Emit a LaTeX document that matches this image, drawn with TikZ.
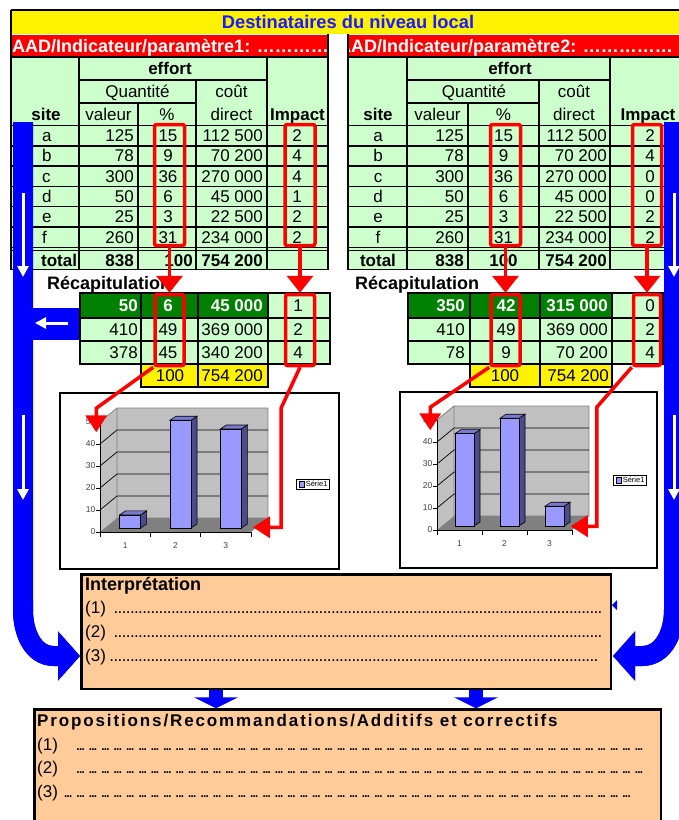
\documentclass[tikz,border=0pt]{standalone}
\usepackage{fontspec}
\setmainfont{Liberation Sans}
\usetikzlibrary{arrows.meta}

\definecolor{cellgreen}{HTML}{CCFFCC}
\definecolor{recapgreen}{HTML}{008000}
\definecolor{peach}{HTML}{FFCC99}
\definecolor{barfront}{HTML}{9999FF}
\definecolor{barside}{HTML}{4C4C8C}
\definecolor{bartop}{HTML}{7A7ACC}
\definecolor{wallgray}{HTML}{C0C0C0}
\definecolor{floorgray}{HTML}{808080}
\definecolor{titleblue}{HTML}{1A1AFF}

\newcommand{\tabfont}{\fontsize{17}{19}\selectfont}
\newcommand{\dotsline}[2]{\hbox to #1{#2\leaders\hbox to 4.1pt{\hss.\hss}\hfill}}
\newcommand{\groupline}[2]{\hbox to #1{#2\leaders\hbox to 12.4pt{\hss.\kern-2.2pt.\kern-2.2pt.\hss}\hfill}}

% 3-D bar chart: origin of front axis, floor width, bar width, bars
\newcommand{\barchart}[4]{%
  \begin{scope}[shift={#1}]
    \fill[wallgray] (0,0) -- (0,-110) -- (17,-124) -- (17,-14) -- cycle;
    \fill[wallgray] (17,-14) rectangle (#2+17,-124);
    \fill[floorgray] (0,0) -- (#2,0) -- (#2+17,-14) -- (17,-14) -- cycle;
    \draw[gray, line width=0.8pt] (0,-110) -- (17,-124) -- (#2+17,-124) -- (#2+17,-14) -- (17,-14) -- (17,-124);
    \foreach \k in {1,...,4}
      \draw[line width=0.7pt] (0,-22*\k) -- (17,-14-22*\k) -- (#2+17,-14-22*\k);
    \draw[line width=0.8pt] (0,-110) -- (0,0) -- (#2,0);
    \foreach \k in {0,...,5}{
      \pgfmathtruncatemacro\lab{10*\k}
      \draw[line width=0.8pt] (-4,-22*\k) -- (0,-22*\k);
      \node[axlbl, anchor=east] at (-4.5,-22*\k) {\lab};
    }
    \foreach \t in {0,...,3}
      \draw[line width=0.8pt] (#2*\t/3,0) -- (#2*\t/3,5);
    \foreach \n/\val in {#4}{
      \pgfmathsetmacro\lx{#2/6*(2*\n-1)}
      \pgfmathsetmacro\cx{\lx+5}
      \pgfmathsetmacro\h{2.2*\val}
      \node[axlbl] at (\lx,14) {\n};
      \filldraw[fill=barside, line width=0.6pt] (\cx+#3/2,-4) -- (\cx+#3/2+6,-8) -- (\cx+#3/2+6,-8-\h) -- (\cx+#3/2,-4-\h) -- cycle;
      \filldraw[fill=bartop, line width=0.6pt] (\cx-#3/2,-4-\h) -- (\cx+#3/2,-4-\h) -- (\cx+#3/2+6,-8-\h) -- (\cx-#3/2+6,-8-\h) -- cycle;
      \filldraw[fill=barfront, line width=0.6pt] (\cx-#3/2,-4) rectangle (\cx+#3/2,-4-\h);
    }
  \end{scope}}

% grid of one indicator table: left, site|valeur, valeur|%, %|cout, cout|impact, right
\newcommand{\tablegrid}[6]{%
  \fill[cellgreen] (#1,57) rectangle (#6,269.5);
  \draw[gridline] (#1,57) -- (#6,57);
  \draw[gridline] (#2,80) -- (#5,80);
  \draw[gridline] (#2,103) -- (#4,103);
  \foreach \k in {0,...,5}
    \draw[gridline] (#1,125.5+20.3*\k) -- (#6,125.5+20.3*\k);
  \draw[gridline] (#1,247.3) -- (#6,247.3);
  \draw[gridline] (#1,250.5) -- (#6,250.5);
  \draw[gridline] (#1,269.5) -- (#6,269.5);
  \draw[gridline] (#1,34) -- (#1,269.5);
  \draw[gridline] (#2,57) -- (#2,269.5);
  \draw[gridline] (#3,103) -- (#3,269.5);
  \draw[gridline] (#4,80) -- (#4,269.5);
  \draw[gridline] (#5,57) -- (#5,269.5);
  \draw[gridline] (#6,34) -- (#6,269.5);}

\begin{document}
\begin{tikzpicture}[x=1pt, y=-1pt,
    txt/.style={inner sep=0pt, font=\tabfont, text height=12pt, text depth=0pt},
    boldtxt/.style={txt, font=\tabfont\bfseries},
    gridline/.style={line width=1.4pt},
    redbox/.style={draw=red, line width=3.5pt, rounded corners=2pt, inner sep=0pt},
    redarrow/.style={draw=red, line width=3.5pt, -{Triangle[width=26pt,length=17pt]}},
    chartarrow/.style={draw=red, line width=3.5pt, -{Triangle[width=21pt,length=17pt]}},
    bluearrow/.style={draw=blue, line width=20pt, -{Triangle[width=48pt,length=22pt]}},
    downarrow/.style={draw=blue, line width=14pt, -{Triangle[width=44pt,length=11pt]}},
    whitearrow/.style={draw=white, line width=3pt, -{Triangle[width=11pt,length=11pt]}},
    panel/.style={draw=black, line width=2.5pt, fill=peach, inner sep=0pt},
    axlbl/.style={inner sep=0pt, font=\fontsize{8.5}{10}\selectfont, text=black!75},
    legend/.style={draw, fill=white, line width=0.6pt, inner sep=1.8pt, font=\fontsize{7.5}{9}\selectfont},
  ]
  \useasboundingbox (0,0) rectangle (679,820);

  % header
  \fill[yellow] (11,10) rectangle (690,34);
  \draw[line width=2pt] (11,10) -- (690,10);
  \draw[line width=1.4pt] (11,10) -- (11,34);
  \node[boldtxt, font=\fontsize{18.3}{21}\selectfont\bfseries, text=titleblue, text height=13pt] (title) at (348,22) {Destinataires du niveau local};

  \fill[red] (12,35) rectangle (328,57);
  \fill[red] (348,35) rectangle (690,57);
  \begin{scope}
    \clip (12,35) rectangle (327,57);
    \node[txt, anchor=west, text=white, font=\fontsize{18}{20}\selectfont\bfseries, text height=13pt] (param1) at (12,46) {AAD/Indicateur/paramètre1: …………};
  \end{scope}
  \begin{scope}
    \clip (349,35) rectangle (679,57);
    \node[txt, anchor=west, text=white, font=\fontsize{18}{20}\selectfont\bfseries, text height=13pt] (param2) at (338,46) {AAD/Indicateur/paramètre2: ……………};
  \end{scope}

  % indicator tables
  \tablegrid{11}{79}{138}{196}{267}{328}
  \tablegrid{348}{407}{468}{539}{610}{690}

  \node[boldtxt] (L-effort) at (170,68.5) {effort};
  \node[txt] (L-quant) at (137.5,91.5) {Quantité};
  \node[txt] (L-cout) at (231.5,91.5) {coût};
  \node[txt] (L-direct) at (231.5,114) {direct};
  \node[txt] (L-valeur) at (108.5,114) {valeur};
  \node[txt] (L-pcthd) at (167,114) {\%};
  \node[boldtxt] (L-site) at (46,114) {site};
  \node[boldtxt] (L-impact) at (297.5,114) {Impact};

  \node[boldtxt] (R-effort) at (510,68.5) {effort};
  \node[txt] (R-quant) at (474,91.5) {Quantité};
  \node[txt] (R-cout) at (574,91.5) {coût};
  \node[txt] (R-direct) at (574,114) {direct};
  \node[txt] (R-valeur) at (437.5,114) {valeur};
  \node[txt] (R-pcthd) at (503.5,114) {\%};
  \node[boldtxt] (R-site) at (378,114) {site};
  \node[boldtxt] (R-impact) at (648,114) {Impact};

  \foreach \st/\vl/\pc/\ct/\im [count=\r] in {a/125/15/112 500/2, b/78/9/70 200/4, c/300/36/270 000/4, d/50/6/45 000/1, e/25/3/22 500/2, f/260/31/234 000/2}{
    \pgfmathsetmacro\yy{115.35+20.3*\r}
    \node[txt, anchor=west] (L-\st) at (42,\yy) {\st};
    \node[txt, anchor=east] (L-\st-val) at (134,\yy) {\vl};
    \node[txt] (L-\st-pct) at (168,\yy) {\pc};
    \node[txt, anchor=east] (L-\st-cout) at (263,\yy) {\ct};
    \node[txt] (L-\st-imp) at (297,\yy) {\im};
  }
  \foreach \st/\vl/\pc/\ct/\im [count=\r] in {a/125/15/112 500/2, b/78/9/70 200/4, c/300/36/270 000/0, d/50/6/45 000/0, e/25/3/22 500/2, f/260/31/234 000/2}{
    \pgfmathsetmacro\yy{115.35+20.3*\r}
    \node[txt] (R-\st) at (378,\yy) {\st};
    \node[txt, anchor=east] (R-\st-val) at (464,\yy) {\vl};
    \node[txt] (R-\st-pct) at (503.5,\yy) {\pc};
    \node[txt, anchor=east] (R-\st-cout) at (607,\yy) {\ct};
    \node[txt, anchor=east] (R-\st-imp) at (655,\yy) {\im};
  }
  \node[boldtxt, anchor=west] (L-total) at (41,260) {total};
  \node[boldtxt, anchor=east] (L-tot-val) at (134,260) {838};
  \node[boldtxt, anchor=east] (L-tot-pct) at (193,260) {100};
  \node[boldtxt, anchor=east] (L-tot-cout) at (263,260) {754 200};
  \node[boldtxt] (R-total) at (378,260) {total};
  \node[boldtxt, anchor=east] (R-tot-val) at (464,260) {838};
  \node[boldtxt] (R-tot-pct) at (503.5,260) {100};
  \node[boldtxt, anchor=east] (R-tot-cout) at (607,260) {754 200};

  % blue flow bands
  \draw[bluearrow] (23,122) -- (23,610) to[out=-90,in=180] (54,656) -- (80,656) coordinate (LbandTip);
  \draw[bluearrow] (674,122) -- (674,610) to[out=-90,in=0] (642,656) -- (613,656) coordinate (RbandTip);
  \fill[blue] (33,308) rectangle (80,340);
  \draw[whitearrow] (68,323) -- (35,323);
  \foreach \xa in {23,674}{
    \draw[whitearrow] (\xa,193) -- (\xa,277);
    \draw[whitearrow] (\xa,415) -- (\xa,500);
  }

  % recapitulation
  \node[boldtxt, anchor=west, font=\fontsize{18}{21}\selectfont\bfseries, text height=13pt] (recapL) at (47,283) {Récapitulation};
  \node[boldtxt, anchor=west, font=\fontsize{18}{21}\selectfont\bfseries, text height=13pt] (recapR) at (355,283) {Récapitulation};

  \fill[recapgreen] (80,293) rectangle (268,318);
  \fill[cellgreen] (268,293) rectangle (330,318);
  \fill[cellgreen] (80,318) rectangle (330,364);
  \fill[yellow] (141,364) rectangle (268,387);
  \draw[gridline] (80,293) rectangle (330,364);
  \draw[gridline] (80,318) -- (330,318) (80,341) -- (330,341);
  \draw[gridline] (141,293) -- (141,364) (198,293) -- (198,364) (268,293) -- (268,364);
  \draw[gridline] (141,364) rectangle (268,387) (198,364) -- (198,387);

  \fill[recapgreen] (408,293) rectangle (612,318);
  \fill[cellgreen] (612,293) rectangle (663,318);
  \fill[cellgreen] (408,318) rectangle (663,364);
  \fill[yellow] (470,364) rectangle (612,387);
  \draw[gridline] (408,293) rectangle (663,364);
  \draw[gridline] (408,318) -- (663,318) (408,341) -- (663,341);
  \draw[gridline] (470,293) -- (470,364) (540,293) -- (540,364) (612,293) -- (612,364);
  \draw[gridline] (470,364) rectangle (612,387) (540,364) -- (540,387);

  \node[boldtxt, anchor=east, text=white] (Lr1-val) at (138,305.5) {50};
  \node[boldtxt, text=white] (Lr1-pct) at (168,305.5) {6};
  \node[boldtxt, anchor=east, text=white] (Lr1-cout) at (263,305.5) {45 000};
  \node[txt] (Lr1-imp) at (298,305.5) {1};
  \node[boldtxt, anchor=east, text=white] (Rr1-val) at (465,305.5) {350};
  \node[boldtxt, text=white] (Rr1-pct) at (506,305.5) {42};
  \node[boldtxt, anchor=east, text=white] (Rr1-cout) at (608,305.5) {315 000};
  \node[txt, anchor=east] (Rr1-imp) at (655,305.5) {0};
  \foreach \vl/\pc/\ct/\im [count=\r] in {410/49/369 000/2, 378/45/340 200/4}{
    \pgfmathsetmacro\yy{306.5+23*\r}
    \node[txt, anchor=east] (Lr\r-val) at (138,\yy) {\vl};
    \node[txt] (Lr\r-pct) at (168,\yy) {\pc};
    \node[txt, anchor=east] (Lr\r-cout) at (263,\yy) {\ct};
    \node[txt] (Lr\r-imp) at (298,\yy) {\im};
  }
  \foreach \vl/\pc/\ct/\im [count=\r] in {410/49/369 000/2, 78/9/70 200/4}{
    \pgfmathsetmacro\yy{306.5+23*\r}
    \node[txt, anchor=east] (Rr\r-val) at (465,\yy) {\vl};
    \node[txt] (Rr\r-pct) at (506,\yy) {\pc};
    \node[txt, anchor=east] (Rr\r-cout) at (608,\yy) {\ct};
    \node[txt, anchor=east] (Rr\r-imp) at (655,\yy) {\im};
  }
  \node[txt] (Lsum-pct) at (170,375.5) {100};
  \node[txt, anchor=east] (Lsum-cout) at (263,375.5) {754 200};
  \node[txt] (Rsum-pct) at (505,375.5) {100};
  \node[txt, anchor=east] (Rsum-cout) at (609,375.5) {754 200};

  % charts
  \node[draw, line width=1.2pt, fill=white, minimum width=279pt, minimum height=176pt, inner sep=0pt] (chartL) at (199.5,481) {};
  \node[draw, line width=1.2pt, fill=white, minimum width=257pt, minimum height=176pt, inner sep=0pt] (chartR) at (528.5,480) {};
  \barchart{(100,532)}{151}{21}{1/6,2/49,3/45}
  \barchart{(437,530)}{135}{19}{1/42,2/49,3/9}
  \node[legend] (legL) at (313,484) {\fboxsep=0pt\fboxrule=0.5pt\fbox{\textcolor{barfront}{\rule{5pt}{5pt}}}\,Série1};
  \node[legend] (legR) at (630,480) {\fboxsep=0pt\fboxrule=0.5pt\fbox{\textcolor{barfront}{\rule{5pt}{5pt}}}\,Série1};

  % red selections
  \node[redbox, minimum width=30pt, minimum height=121pt] (LpctTab) at (169.5,185) {};
  \node[redbox, minimum width=30pt, minimum height=121pt] (LimpTab) at (300,185) {};
  \node[redbox, minimum width=29pt, minimum height=71pt] (LpctRec) at (169.5,330) {};
  \node[redbox, minimum width=29pt, minimum height=71pt] (LimpRec) at (300,330) {};
  \node[redbox, minimum width=30pt, minimum height=121pt] (RpctTab) at (505.5,185) {};
  \node[redbox, minimum width=29pt, minimum height=121pt] (RimpTab) at (647,185) {};
  \node[redbox, minimum width=29pt, minimum height=71pt] (RpctRec) at (505.5,330) {};
  \node[redbox, minimum width=27pt, minimum height=71pt] (RimpRec) at (647,330) {};

  \draw[redarrow] (LpctTab) -- (LpctRec);
  \draw[redarrow] (LimpTab) -- (LimpRec);
  \draw[redarrow] (RpctTab) -- (RpctRec);
  \draw[redarrow] (RimpTab) -- (RimpRec);

  \draw[chartarrow] (LpctRec.south west) -- ++(-57,41) -- ++(0,24) coordinate (LpctTip);
  \draw[chartarrow] (LimpRec.south) -- ++(-19,41) -- ++(0,119) -- ++(-28,0) coordinate (LimpTip);
  \draw[chartarrow] (RpctRec.south west) -- ++(-59,40) -- ++(0,23) coordinate (RpctTip);
  \draw[chartarrow] (RimpRec.south west) -- ++(-35,40) -- ++(0,119) -- ++(-26,0) coordinate (RimpTip);

  % interpretation and propositions
  \node[panel, minimum width=529.5pt, minimum height=114.5pt] (interp) at (346,631.5) {};
  \node[boldtxt, anchor=west, font=\fontsize{18}{21}\selectfont\bfseries, text height=13pt] (intTitle) at (85,584) {Interprétation};
  \node[txt, anchor=west] (int1) at (85,607) {\dotsline{518pt}{(1) }};
  \node[txt, anchor=west] (int2) at (85,631) {\dotsline{518pt}{(2) }};
  \node[txt, anchor=west] (int3) at (85,655) {\dotsline{513pt}{(3)}};
  \fill[blue] (617,600) -- (612,605) -- (617,610) -- cycle;

  \node[panel, minimum width=626.5pt, minimum height=119.5pt] (props) at (347.5,769.25) {};
  \node[boldtxt, anchor=west, font=\fontsize{17}{20}\selectfont\bfseries\addfontfeature{LetterSpace=11}, text height=12pt] (propTitle) at (37,720) {Propositions/Recommandations/Additifs et correctifs};
  \node[txt, anchor=west] (prop1) at (37,744) {\groupline{613pt}{(1) }};
  \node[txt, anchor=west] (prop2) at (37,767) {\groupline{613pt}{(2) }};
  \node[txt, anchor=west] (prop3) at (37,791) {\groupline{603pt}{(3)}};

  \draw[downarrow] (interp.south -| 216,0) -- (props.north -| 216,0);
  \draw[downarrow] (interp.south -| 476,0) -- (props.north -| 476,0);

  % band heads over the panel edges
  \draw[bluearrow] (23,600) -- (23,610) to[out=-90,in=180] (54,656) -- (LbandTip);
  \draw[bluearrow] (674,600) -- (674,610) to[out=-90,in=0] (642,656) -- (RbandTip);
\end{tikzpicture}
\end{document}
